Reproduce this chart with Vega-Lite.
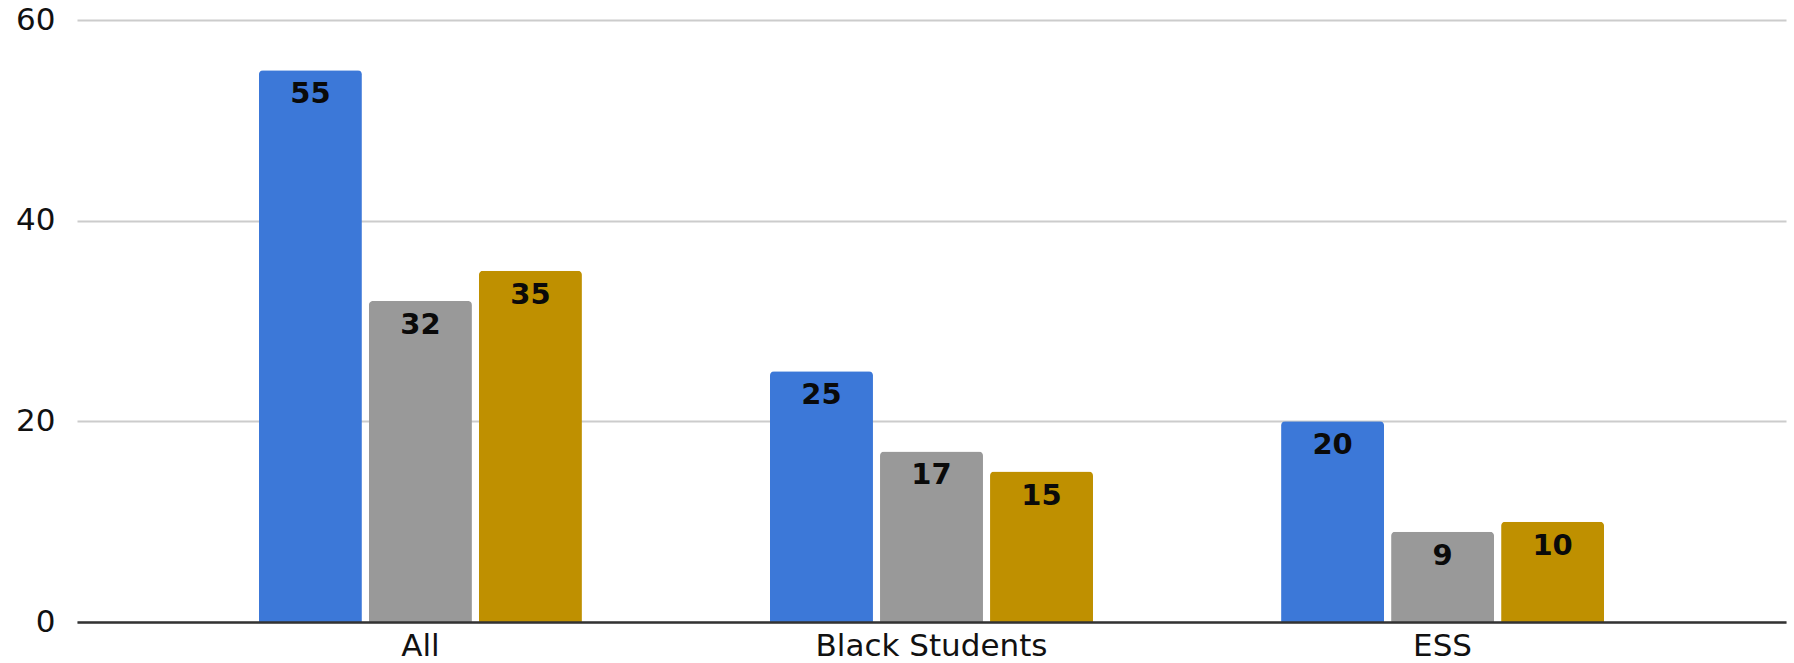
{
  "$schema": "https://vega.github.io/schema/vega-lite/v6.json",
  "width": 1709,
  "height": 602,
  "autosize": {"type": "none"},
  "padding": {"left": 77, "top": 20, "right": 8, "bottom": 41},
  "background": "white",
  "config": {
    "view": {"stroke": null},
    "font": "DejaVu Sans"
  },
  "data": {
    "values": [
      {"group": "All", "series": "Series 1", "value": 55},
      {"group": "All", "series": "Series 2", "value": 32},
      {"group": "All", "series": "Series 3", "value": 35},
      {"group": "Black Students", "series": "Series 1", "value": 25},
      {"group": "Black Students", "series": "Series 2", "value": 17},
      {"group": "Black Students", "series": "Series 3", "value": 15},
      {"group": "ESS", "series": "Series 1", "value": 20},
      {"group": "ESS", "series": "Series 2", "value": 9},
      {"group": "ESS", "series": "Series 3", "value": 10}
    ]
  },
  "encoding": {
    "x": {
      "field": "group",
      "type": "nominal",
      "sort": ["All", "Black Students", "ESS"],
      "scale": {"paddingInner": 0.368, "paddingOuter": 0.356},
      "axis": {
        "title": null,
        "labelAngle": 0,
        "ticks": false,
        "grid": false,
        "domain": true,
        "domainColor": "#333333",
        "domainWidth": 2.5,
        "labelFont": "DejaVu Sans",
        "labelFontSize": 31,
        "labelColor": "#111111",
        "labelBaseline": "alphabetic",
        "labelPadding": 33,
        "labelLimit": 0,
        "labelOverlap": false,
        "zindex": 1
      }
    },
    "xOffset": {
      "field": "series",
      "type": "nominal",
      "sort": ["Series 1", "Series 2", "Series 3"],
      "scale": {"paddingInner": 0.064, "paddingOuter": 0}
    },
    "y": {
      "field": "value",
      "type": "quantitative",
      "scale": {"domain": [0, 60], "nice": false},
      "axis": {
        "title": null,
        "values": [0, 20, 40, 60],
        "ticks": false,
        "domain": false,
        "grid": true,
        "gridColor": "#cccccc",
        "gridWidth": 2,
        "labelFont": "DejaVu Sans",
        "labelFontSize": 31,
        "labelColor": "#111111",
        "labelPadding": 22
      }
    }
  },
  "layer": [
    {
      "mark": {"type": "bar", "cornerRadiusTopLeft": 4, "cornerRadiusTopRight": 4},
      "encoding": {
        "color": {
          "field": "series",
          "type": "nominal",
          "scale": {
            "domain": ["Series 1", "Series 2", "Series 3"],
            "range": ["#3c78d8", "#999999", "#bf9000"]
          },
          "legend": null
        }
      }
    },
    {
      "mark": {
        "type": "text",
        "baseline": "alphabetic",
        "dy": 33,
        "font": "DejaVu Sans",
        "fontWeight": "bold",
        "fontSize": 29,
        "color": "#0a0a0a"
      },
      "encoding": {
        "text": {"field": "value", "type": "quantitative"}
      }
    }
  ]
}
